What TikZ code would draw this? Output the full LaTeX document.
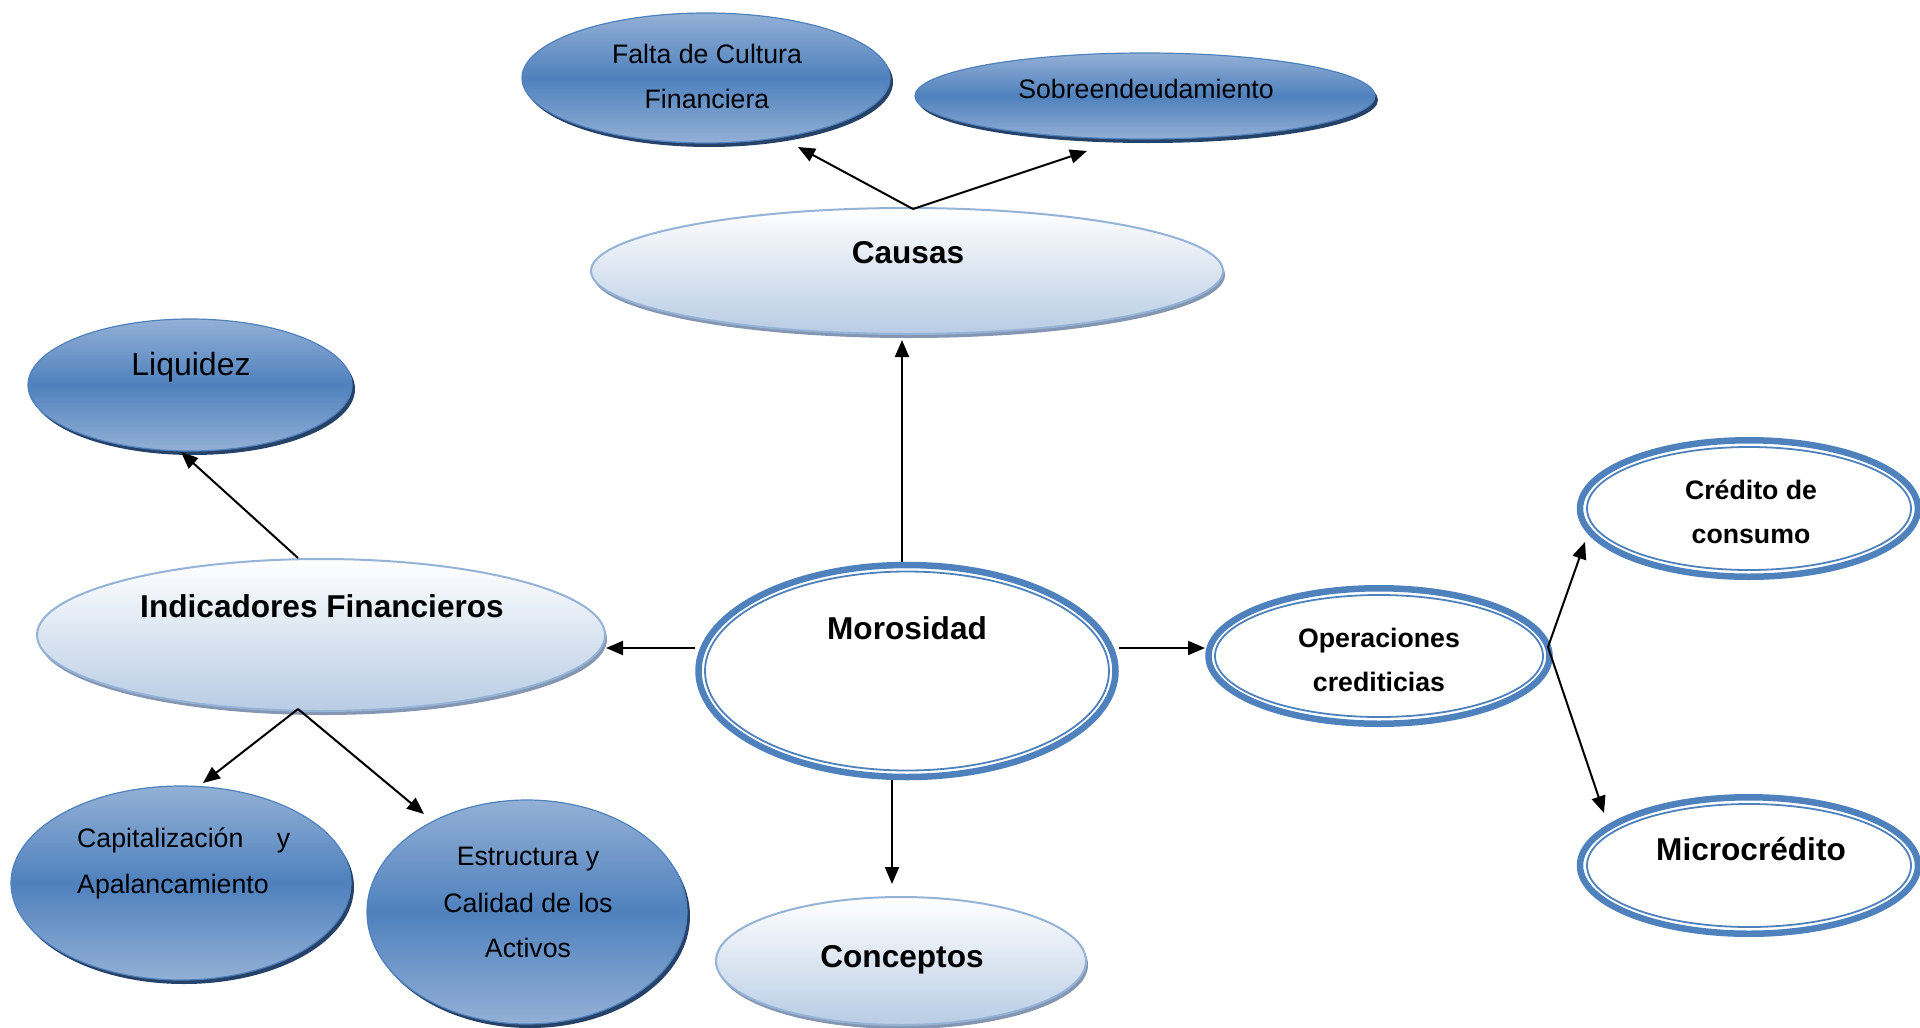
\documentclass[tikz,border=0pt]{standalone}
\usepackage{fontspec}
\setmainfont{Liberation Sans}
\usetikzlibrary{shapes.geometric,arrows.meta,calc,shadows}
\definecolor{acc}{RGB}{79,129,189}
\definecolor{acclight}{RGB}{147,176,214}
\definecolor{accshadow}{RGB}{38,66,104}
\definecolor{palebot}{RGB}{184,204,228}
\definecolor{paleborder}{RGB}{149,179,215}
\definecolor{paleshadow}{RGB}{132,150,178}
\tikzset{
  darkell/.style={ellipse, inner sep=0pt, draw=acc, line width=1.2pt,
    top color=acclight, bottom color=acclight, middle color=acc,
    drop shadow={shadow xshift=3pt, shadow yshift=-4pt, fill=accshadow, opacity=1}},
  paleell/.style={ellipse, inner sep=0pt, draw=paleborder, line width=2pt,
    top color=white, bottom color=palebot,
    drop shadow={shadow xshift=2pt, shadow yshift=-4pt, fill=paleshadow, opacity=1}},
  dblell/.style={ellipse, inner sep=0pt, draw=acc, line width=6.5pt, fill=white},
  innerline/.style={draw=acc, line width=1.8pt},
  tsm/.style={font=\fontsize{26.7}{32}\selectfont, inner sep=0pt, anchor=base},
  tsmb/.style={font=\fontsize{26.7}{32}\selectfont\bfseries, inner sep=0pt, anchor=base},
  tbig/.style={font=\fontsize{31.6}{38}\selectfont\bfseries, inner sep=0pt, anchor=base},
  arr/.style={-{Triangle[length=17pt,width=14pt]}, line width=2pt, black}
}
\begin{document}
\begin{tikzpicture}[x=1pt,y=-1pt]
\fill[white] (0,0) rectangle (1920,1028);
\useasboundingbox (0,0) rectangle (1920,1028);

% ellipses
\node[darkell, minimum width=368pt, minimum height=130pt] (falta) at (706,78) {};
\node[darkell, minimum width=460pt, minimum height=86pt] (sobre) at (1145,96) {};
\node[paleell, minimum width=632pt, minimum height=126pt] (causas) at (907,271) {};
\node[darkell, minimum width=324pt, minimum height=132pt] (liq) at (190,385) {};
\node[paleell, minimum width=568pt, minimum height=152pt] (indic) at (321,635) {};
\node[darkell, minimum width=340pt, minimum height=194pt] (capi) at (181,883) {};
\node[darkell, minimum width=320pt, minimum height=224pt] (estr) at (527,912) {};
\node[paleell, minimum width=370pt, minimum height=128pt] (conc) at (901,961) {};

\node[dblell, minimum width=417pt, minimum height=212pt] (moro) at (907,671) {};
\node[dblell, minimum width=341pt, minimum height=135.5pt] (oper) at (1379,656) {};
\node[dblell, minimum width=338pt, minimum height=136.5pt] (cred) at (1749,508.5) {};
\node[dblell, minimum width=338pt, minimum height=136.5pt] (micro) at (1749,865.5) {};
\draw[innerline] (moro.center) ellipse [x radius=202pt, y radius=99.5pt];
\draw[innerline] (oper.center) ellipse [x radius=164pt, y radius=61pt];
\draw[innerline] (cred.center) ellipse [x radius=162pt, y radius=61.5pt];
\draw[innerline] (micro.center) ellipse [x radius=162pt, y radius=61.5pt];

% texts
\node[tsm] (faltaA) at (707,63) {Falta de Cultura};
\node[tsm] (faltaB) at (707,108) {Financiera};
\node[tsm] (sobreT) at (1146,98) {Sobreendeudamiento};
\node[tbig] (causasT) at (908,263) {Causas};
\node[font=\fontsize{32}{38}\selectfont, inner sep=0pt, anchor=base] (liqT) at (191,375) {Liquidez};
\node[tbig] (indicT) at (322,617) {Indicadores Financieros};
\node[tbig] (moroT) at (907,639) {Morosidad};
\node[tsmb] (operA) at (1379,647) {Operaciones};
\node[tsmb] (operB) at (1379,691) {crediticias};
\node[tsmb] (credA) at (1751,499) {Crédito de};
\node[tsmb] (credB) at (1751,543) {consumo};
\node[tbig] (microT) at (1751,860) {Microcrédito};
\node[tsm, anchor=base west, text width=213pt] (capiA) at (77,847) {Capitalización\hfill y};
\node[tsm, anchor=base west] (capiB) at (77,893) {Apalancamiento};
\node[tsm] (estrA) at (528,865) {Estructura y};
\node[tsm] (estrB) at (528,912) {Calidad de los};
\node[tsm] (estrC) at (528,957) {Activos};
\node[tbig] (concT) at (902,967) {Conceptos};

% connectors
\draw[arr] ($(causas.center)+(6,-62)$) -- ($(falta.center)+(92,69)$);
\draw[arr] ($(causas.center)+(6,-62)$) -- ($(sobre.center)+(-58,55)$);
\draw[arr] ($(moro.center)+(-5,-109)$) -- ($(causas.center)+(-5,69)$);
\draw[arr] ($(indic.center)+(-23,-77)$) -- ($(liq.center)+(-9,67)$);
\draw[arr] ($(moro.center)+(-212,-23)$) -- ($(indic.center)+(285,13)$);
\draw[arr] ($(moro.center)+(212,-23)$) -- ($(oper.center)+(-174,-8)$);
\draw[arr] ($(moro.center)+(-15,109)$) -- ($(conc.center)+(-9,-77)$);
\draw[arr] ($(indic.center)+(-23,74)$) -- ($(capi.center)+(22,-100)$);
\draw[arr] ($(indic.center)+(-23,74)$) -- ($(estr.center)+(-103,-98)$);
\draw[arr] ($(oper.center)+(169,-9)$) -- ($(cred.center)+(-164,33.5)$);
\draw[arr] ($(oper.center)+(169,-9)$) -- ($(micro.center)+(-145,-52.5)$);
\end{tikzpicture}
\end{document}
